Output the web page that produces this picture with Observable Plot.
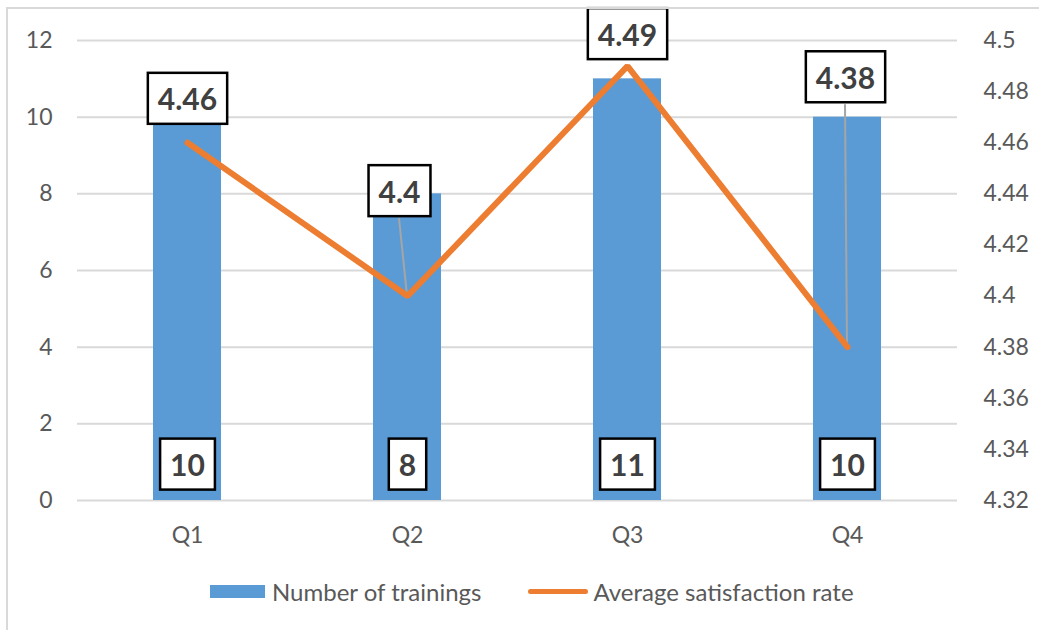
<!DOCTYPE html>
<html><head><meta charset="utf-8">
<script src="https://cdn.jsdelivr.net/npm/d3@7"></script>
<script src="https://cdn.jsdelivr.net/npm/@observablehq/plot@0.6"></script>
<style>
html,body{margin:0;padding:0;background:#fff;overflow:hidden;width:1039px;height:630px;}
#wrap{position:relative;width:1039px;height:630px;font-family:Lato,"Open Sans",sans-serif;color:#595959;}
#chart{position:absolute;left:0;top:0;}
#frame{position:absolute;left:6px;top:7px;width:1100px;height:700px;border:2px solid #d9d9d9;box-sizing:border-box;pointer-events:none;}
#legend{position:absolute;left:210px;top:578px;height:26px;display:flex;align-items:center;font-size:24px;white-space:nowrap;}
.sw-bar{width:55px;height:13px;background:#5b9bd5;margin-right:7px;}
.sw-line{width:60px;height:5px;border-radius:3px;background:#ed7d31;margin-left:47px;margin-right:5px;}
</style></head>
<body><div id="wrap"><div id="chart"></div><div id="frame"></div>
<div id="legend"><span class="sw-bar"></span><span>Number of trainings</span><span class="sw-line"></span><span>Average satisfaction rate</span></div>
</div>
<script>
const quarters = ["Q1", "Q2", "Q3", "Q4"];
const trainings = [10, 8, 11, 10];
const satisfaction = [4.46, 4.4, 4.49, 4.38];
const leftTicks = [0, 2, 4, 6, 8, 10, 12];
const rightTicks = [4.32, 4.34, 4.36, 4.38, 4.4, 4.42, 4.44, 4.46, 4.48, 4.5];

const rows = quarters.map((q, i) => ({q, n: trainings[i], s: satisfaction[i]}));
const rMin = 4.32, rMax = 4.5, lMax = 12;
const toLeft = v => (v - rMin) / (rMax - rMin) * lMax;
const fromLeft = d => rMin + d / lMax * (rMax - rMin);
const fmt = v => String(+v.toFixed(2));

// label placement (pixel offsets of the boxed labels relative to the point)
const labelStyle = {
  Q1: {dx: 0, dy: -42, leader: false},
  Q2: {dx: -8, dy: -103, leader: true},
  Q3: {dx: 0, dy: -30, leader: false},
  Q4: {dx: -2, dy: -268, leader: true}
};

const labelFont = {fontWeight: 700, fontSize: 30, fill: "#404040", fontFamily: "Lato, 'Open Sans', sans-serif"};

const plot = Plot.plot({
  width: 1039, height: 560,
  marginLeft: 77, marginRight: 82, marginTop: 40, marginBottom: 60,
  style: {fontFamily: "Lato, 'Open Sans', sans-serif", fontSize: "23px", color: "#595959", background: "transparent", overflow: "visible"},
  x: {domain: quarters, paddingInner: 0.69, paddingOuter: 0.345, axis: null},
  y: {domain: [0, lMax], axis: null},
  marks: [
    Plot.gridY(leftTicks, {stroke: "#d9d9d9", strokeOpacity: 1, strokeWidth: 2}),
    Plot.barY(rows, {x: "q", y: "n", fill: "#5b9bd5"}),
    Plot.line(rows, {x: "q", y: d => toLeft(d.s), stroke: "#ed7d31", strokeWidth: 6, strokeLinejoin: "miter", strokeLinecap: "round"}),
    Plot.axisY({ticks: leftTicks, tickSize: 0, tickPadding: 25, fontSize: 23, label: null}),
    Plot.axisY({anchor: "right", ticks: rightTicks.map(toLeft), tickFormat: d => fmt(fromLeft(d)), tickSize: 0, tickPadding: 26, fontSize: 23, label: null}),
    Plot.axisX({tickSize: 0, tickPadding: 26, fontSize: 23, label: null}),
    Plot.text(rows, {x: "q", y: 0, text: d => String(d.n), dy: -34, ...labelFont}),
    ...rows.map(r => Plot.text([r], {x: "q", y: d => toLeft(d.s), text: d => fmt(d.s), dx: labelStyle[r.q].dx, dy: labelStyle[r.q].dy, ...labelFont}))
  ]
});

document.getElementById("chart").append(plot);

const ns = "http://www.w3.org/2000/svg";
const boxH = 51, padX = 10;
plot.querySelectorAll('g[font-weight="700"] text').forEach(t => {
  const b = t.getBBox();
  const r = document.createElementNS(ns, "rect");
  r.setAttribute("x", b.x - padX);
  r.setAttribute("y", b.y + b.height / 2 - boxH / 2);
  r.setAttribute("width", b.width + 2 * padX);
  r.setAttribute("height", boxH);
  r.setAttribute("fill", "#fff");
  r.setAttribute("stroke", "#000");
  r.setAttribute("stroke-width", 2.5);
  const tr = t.getAttribute("transform");
  if (tr) r.setAttribute("transform", tr);
  t.parentNode.insertBefore(r, t);
});

// leader lines from moved labels to their points, drawn under the line
const xs = plot.scale("x"), ys = plot.scale("y");
const lineG = plot.querySelector('g[aria-label="line"]');
rows.forEach(r => {
  const st = labelStyle[r.q];
  if (!st.leader || !lineG) return;
  const px = xs.apply(r.q) + xs.bandwidth / 2;
  const py = ys.apply(toLeft(r.s));
  const l = document.createElementNS(ns, "line");
  l.setAttribute("x1", px + st.dx);
  l.setAttribute("y1", py + st.dy + boxH / 2);
  l.setAttribute("x2", px);
  l.setAttribute("y2", py);
  l.setAttribute("stroke", "#a5a5a5");
  l.setAttribute("stroke-width", 2);
  lineG.parentNode.insertBefore(l, lineG);
});
</script>
</body></html>
